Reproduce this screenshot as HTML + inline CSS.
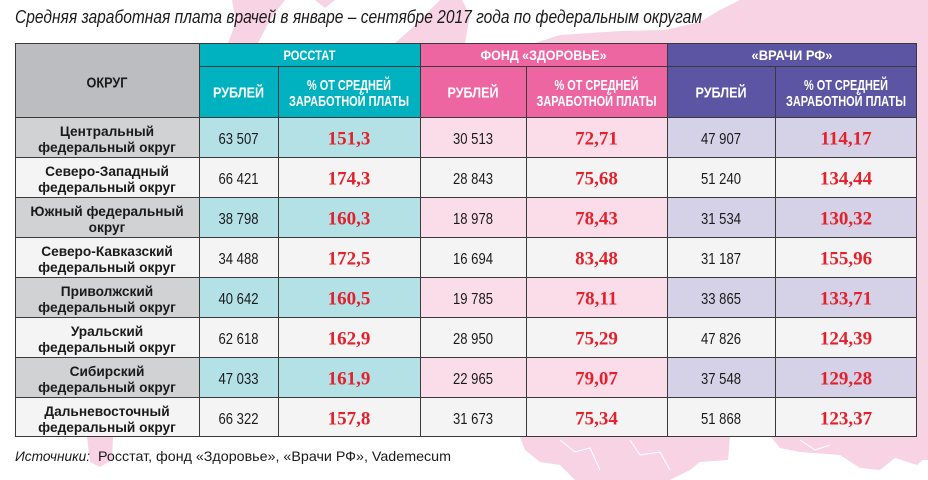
<!DOCTYPE html>
<html><head><meta charset="utf-8">
<style>
html,body{margin:0;padding:0;background:#fff;}
svg{display:block;}
.h{font-family:"Liberation Sans Narrow","Liberation Sans",sans-serif;font-weight:bold;fill:#fff;}
.ok{font-family:"Liberation Sans",sans-serif;font-weight:bold;fill:#1a1a1a;font-size:13.7px;}
.n{font-family:"Liberation Sans Narrow","Liberation Sans",sans-serif;fill:#1a1a1a;font-size:16px;}
.r{font-family:"Liberation Serif",serif;font-weight:bold;fill:#e4212b;font-size:19px;}
</style></head>
<body>
<svg width="928" height="480" viewBox="0 0 928 480" xmlns="http://www.w3.org/2000/svg">
<!-- map background -->
<g fill="#f8d3e3">
<polygon points="228,43 236,22 232,0 285,0 270,20 258,43"/>
<polygon points="315,0 335,0 325,8"/>
<polygon points="395,43 410,30 425,15 440,0 462,0 470,15 465,43"/>
<polygon points="535,43 560,35 620,31 665,30 700,22 720,10 740,0 928,0 928,43"/>
<rect x="910" y="40" width="18" height="420"/>
<polygon points="87,437 113,437 112,460 100,467 90,462"/>
<polygon points="520,437 730,437 728,460 700,462 690,470 670,480 575,480 560,465 540,462 525,450"/>
<polygon points="771,437 928,437 928,455 917,465 895,458 880,470 860,468 840,455 800,452 780,448"/>
</g>
<g fill="none" stroke="#fff" stroke-width="1">
<polyline points="560,440 575,452 590,448 600,470"/>
<polyline points="630,440 640,455 660,452 670,470"/>
<polyline points="800,440 815,450 830,445"/>
</g>

<!-- title -->
<text x="15" y="23" font-family="Liberation Sans, sans-serif" font-style="italic" font-size="18" fill="#1a1a1a" textLength="687" lengthAdjust="spacingAndGlyphs">Средняя заработная плата врачей в январе – сентябре 2017 года по федеральным округам</text>

<!-- header backgrounds -->
<rect x="15" y="43" width="184" height="74" fill="#bcbdc0"/>
<rect x="199" y="43" width="221" height="74" fill="#00b1bf"/>
<rect x="420" y="43" width="247" height="74" fill="#ee66a1"/>
<rect x="667" y="43" width="250" height="74" fill="#5b55a3"/>

<!-- body backgrounds -->
<g>
<rect x="15" y="117" width="902" height="320" fill="#f4f4f4"/>
<!-- colored rows 0,2,4,6 -->
<g id="cr">
<rect x="15" y="117" width="184" height="40" fill="#d1d2d4"/>
<rect x="199" y="117" width="221" height="40" fill="#b3e1e6"/>
<rect x="420" y="117" width="247" height="40" fill="#fbdde9"/>
<rect x="667" y="117" width="250" height="40" fill="#d5d1e7"/>
</g>
<use href="#cr" y="80"/>
<use href="#cr" y="160"/>
<use href="#cr" y="240"/>
</g>

<!-- header text -->
<text class="h" x="107" y="87.3" font-size="15" text-anchor="middle" textLength="41" lengthAdjust="spacingAndGlyphs" style="fill:#1a1a1a">ОКРУГ</text>
<text class="h" x="309.5" y="60" font-size="14" text-anchor="middle" textLength="52" lengthAdjust="spacingAndGlyphs">РОССТАТ</text>
<text class="h" x="543.5" y="60" font-size="14" text-anchor="middle" textLength="126" lengthAdjust="spacingAndGlyphs">ФОНД «ЗДОРОВЬЕ»</text>
<text class="h" x="792" y="60" font-size="14" text-anchor="middle" textLength="81" lengthAdjust="spacingAndGlyphs">«ВРАЧИ РФ»</text>

<g class="h" font-size="15" text-anchor="middle">
<text x="238.5" y="97.5" textLength="51" lengthAdjust="spacingAndGlyphs">РУБЛЕЙ</text>
<text x="473" y="97.5" textLength="51" lengthAdjust="spacingAndGlyphs">РУБЛЕЙ</text>
<text x="721" y="97.5" textLength="51" lengthAdjust="spacingAndGlyphs">РУБЛЕЙ</text>
<text x="349" y="90" textLength="84" lengthAdjust="spacingAndGlyphs">% ОТ СРЕДНЕЙ</text>
<text x="349" y="106" textLength="120" lengthAdjust="spacingAndGlyphs">ЗАРАБОТНОЙ ПЛАТЫ</text>
<text x="596.5" y="90" textLength="84" lengthAdjust="spacingAndGlyphs">% ОТ СРЕДНЕЙ</text>
<text x="596.5" y="106" textLength="120" lengthAdjust="spacingAndGlyphs">ЗАРАБОТНОЙ ПЛАТЫ</text>
<text x="846" y="90" textLength="84" lengthAdjust="spacingAndGlyphs">% ОТ СРЕДНЕЙ</text>
<text x="846" y="106" textLength="120" lengthAdjust="spacingAndGlyphs">ЗАРАБОТНОЙ ПЛАТЫ</text>
</g>

<!-- okrug names -->
<g class="ok" text-anchor="middle">
<text x="107" y="136">Центральный</text>
<text x="107" y="152">федеральный округ</text>
<text x="107" y="176">Северо-Западный</text>
<text x="107" y="192">федеральный округ</text>
<text x="107" y="216">Южный федеральный</text>
<text x="107" y="232">округ</text>
<text x="107" y="256">Северо-Кавказский</text>
<text x="107" y="272">федеральный округ</text>
<text x="107" y="296">Приволжский</text>
<text x="107" y="312">федеральный округ</text>
<text x="107" y="336">Уральский</text>
<text x="107" y="352">федеральный округ</text>
<text x="107" y="376">Сибирский</text>
<text x="107" y="392">федеральный округ</text>
<text x="107" y="416">Дальневосточный</text>
<text x="107" y="432">федеральный округ</text>
</g>

<!-- numbers -->
<g class="n" text-anchor="middle">
<text x="238.5" y="144" textLength="40" lengthAdjust="spacingAndGlyphs">63 507</text>
<text x="473" y="144" textLength="40" lengthAdjust="spacingAndGlyphs">30 513</text>
<text x="721" y="144" textLength="40" lengthAdjust="spacingAndGlyphs">47 907</text>
<text x="238.5" y="184" textLength="40" lengthAdjust="spacingAndGlyphs">66 421</text>
<text x="473" y="184" textLength="40" lengthAdjust="spacingAndGlyphs">28 843</text>
<text x="721" y="184" textLength="40" lengthAdjust="spacingAndGlyphs">51 240</text>
<text x="238.5" y="224" textLength="40" lengthAdjust="spacingAndGlyphs">38 798</text>
<text x="473" y="224" textLength="40" lengthAdjust="spacingAndGlyphs">18 978</text>
<text x="721" y="224" textLength="40" lengthAdjust="spacingAndGlyphs">31 534</text>
<text x="238.5" y="264" textLength="40" lengthAdjust="spacingAndGlyphs">34 488</text>
<text x="473" y="264" textLength="40" lengthAdjust="spacingAndGlyphs">16 694</text>
<text x="721" y="264" textLength="40" lengthAdjust="spacingAndGlyphs">31 187</text>
<text x="238.5" y="304" textLength="40" lengthAdjust="spacingAndGlyphs">40 642</text>
<text x="473" y="304" textLength="40" lengthAdjust="spacingAndGlyphs">19 785</text>
<text x="721" y="304" textLength="40" lengthAdjust="spacingAndGlyphs">33 865</text>
<text x="238.5" y="344" textLength="40" lengthAdjust="spacingAndGlyphs">62 618</text>
<text x="473" y="344" textLength="40" lengthAdjust="spacingAndGlyphs">28 950</text>
<text x="721" y="344" textLength="40" lengthAdjust="spacingAndGlyphs">47 826</text>
<text x="238.5" y="384" textLength="40" lengthAdjust="spacingAndGlyphs">47 033</text>
<text x="473" y="384" textLength="40" lengthAdjust="spacingAndGlyphs">22 965</text>
<text x="721" y="384" textLength="40" lengthAdjust="spacingAndGlyphs">37 548</text>
<text x="238.5" y="424" textLength="40" lengthAdjust="spacingAndGlyphs">66 322</text>
<text x="473" y="424" textLength="40" lengthAdjust="spacingAndGlyphs">31 673</text>
<text x="721" y="424" textLength="40" lengthAdjust="spacingAndGlyphs">51 868</text>
</g>

<g class="r" text-anchor="middle">
<text x="349" y="144.5">151,3</text>
<text x="596.5" y="144.5">72,71</text>
<text x="846" y="144.5">114,17</text>
<text x="349" y="184.5">174,3</text>
<text x="596.5" y="184.5">75,68</text>
<text x="846" y="184.5">134,44</text>
<text x="349" y="224.5">160,3</text>
<text x="596.5" y="224.5">78,43</text>
<text x="846" y="224.5">130,32</text>
<text x="349" y="264.5">172,5</text>
<text x="596.5" y="264.5">83,48</text>
<text x="846" y="264.5">155,96</text>
<text x="349" y="304.5">160,5</text>
<text x="596.5" y="304.5">78,11</text>
<text x="846" y="304.5">133,71</text>
<text x="349" y="344.5">162,9</text>
<text x="596.5" y="344.5">75,29</text>
<text x="846" y="344.5">124,39</text>
<text x="349" y="384.5">161,9</text>
<text x="596.5" y="384.5">79,07</text>
<text x="846" y="384.5">129,28</text>
<text x="349" y="424.5">157,8</text>
<text x="596.5" y="424.5">75,34</text>
<text x="846" y="424.5">123,37</text>
</g>

<!-- grid lines -->
<g stroke="#3a3a3a" stroke-width="1" fill="none">
<line x1="15" y1="43.5" x2="917" y2="43.5"/>
<line x1="199" y1="66.5" x2="917" y2="66.5"/>
<line x1="15" y1="117.5" x2="917" y2="117.5"/>
<line x1="15" y1="157.5" x2="917" y2="157.5"/>
<line x1="15" y1="197.5" x2="917" y2="197.5"/>
<line x1="15" y1="237.5" x2="917" y2="237.5"/>
<line x1="15" y1="277.5" x2="917" y2="277.5"/>
<line x1="15" y1="317.5" x2="917" y2="317.5"/>
<line x1="15" y1="357.5" x2="917" y2="357.5"/>
<line x1="15" y1="397.5" x2="917" y2="397.5"/>
<line x1="15" y1="436.5" x2="917" y2="436.5"/>
<line x1="15.5" y1="43" x2="15.5" y2="437"/>
<line x1="199.5" y1="43" x2="199.5" y2="437"/>
<line x1="420.5" y1="43" x2="420.5" y2="437"/>
<line x1="667.5" y1="43" x2="667.5" y2="437"/>
<line x1="916.5" y1="43" x2="916.5" y2="437"/>
<line x1="278.5" y1="66" x2="278.5" y2="437"/>
<line x1="526.5" y1="66" x2="526.5" y2="437"/>
<line x1="775.5" y1="66" x2="775.5" y2="437"/>
</g>

<!-- source -->
<text x="15" y="461" font-family="Liberation Sans, sans-serif" font-style="italic" font-size="14" fill="#1a1a1a" textLength="75" lengthAdjust="spacingAndGlyphs">Источники:</text>
<text x="98" y="461" font-family="Liberation Sans, sans-serif" font-size="14" fill="#1a1a1a" textLength="353" lengthAdjust="spacingAndGlyphs">Росстат, фонд «Здоровье», «Врачи РФ», Vademecum</text>
</svg>
</body></html>
